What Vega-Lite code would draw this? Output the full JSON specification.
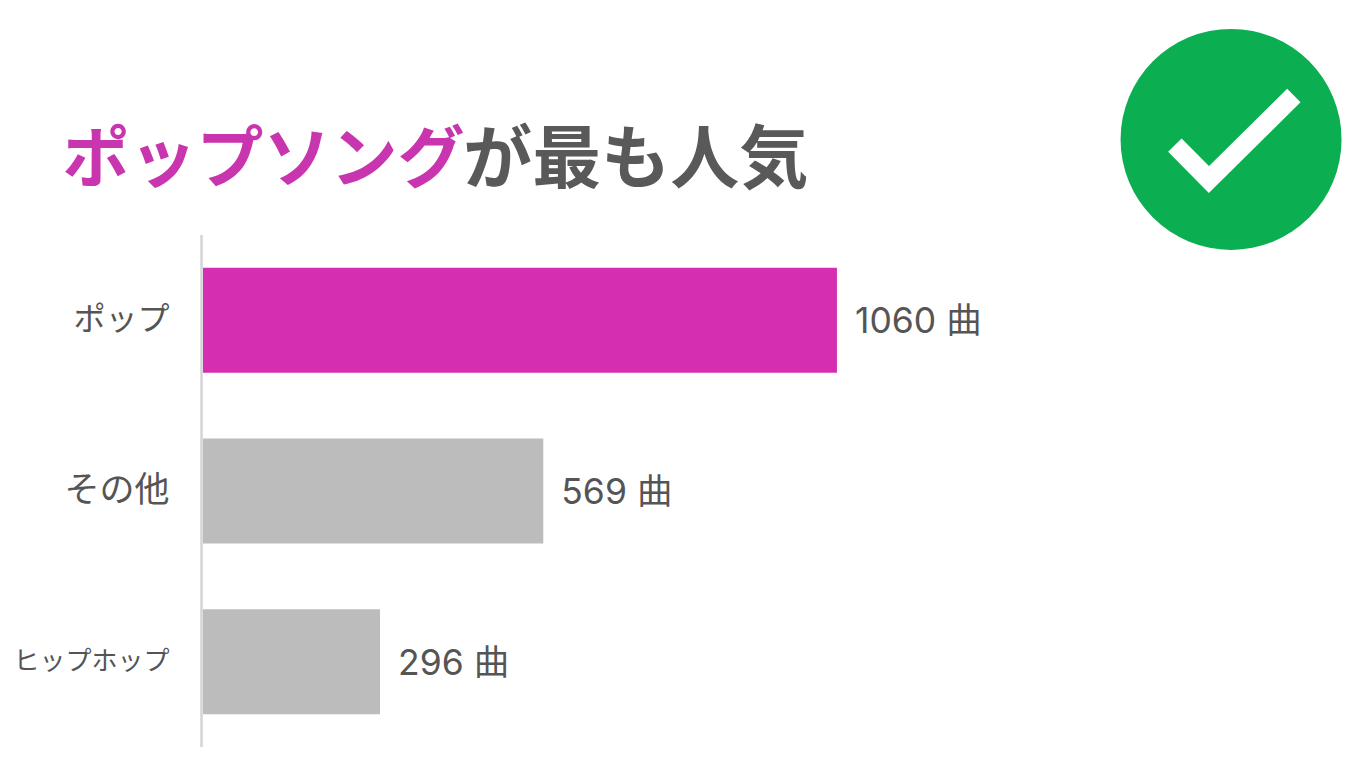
{
  "$schema": "https://vega.github.io/schema/vega-lite/v6.json",
  "background": "white",
  "width": 1168,
  "height": 512,
  "padding": {"left": 203, "top": 235, "right": 0, "bottom": 37},
  "autosize": "none",
  "view": {"stroke": null},
  "config": {"font": "Noto Sans CJK JP"},
  "datasets": {
    "genres": [
      {"genre": "ポップ", "songs": 1060, "label": "1060 曲", "highlight": "yes"},
      {"genre": "その他", "songs": 569, "label": "569 曲", "highlight": "no"},
      {"genre": "ヒップホップ", "songs": 296, "label": "296 曲", "highlight": "no"}
    ],
    "baseline": [
      {"pos": -2.5, "row": 0},
      {"pos": -2.5, "row": 3}
    ],
    "headline": [
      {"pos": -235, "row": -0.43, "text": "ポップソング", "part": "accent"},
      {"pos": 435, "row": -0.43, "text": "が最も人気", "part": "rest"}
    ],
    "badge": [{"pos": 1719, "row": -0.56}],
    "check": [
      {"pos": 1625, "row": -0.527, "step": 1},
      {"pos": 1682, "row": -0.325, "step": 2},
      {"pos": 1824, "row": -0.817, "step": 3}
    ]
  },
  "layer": [
    {
      "data": {"name": "genres"},
      "mark": {"type": "bar"},
      "encoding": {
        "y": {
          "field": "genre",
          "type": "nominal",
          "sort": null,
          "scale": {"paddingInner": 0.385, "paddingOuter": 0.1925},
          "axis": {
            "title": null,
            "domain": false,
            "ticks": false,
            "labelPadding": 34,
            "labelFontSize": {
              "condition": [
                {"test": "datum.value == 'ヒップホップ'", "value": 26},
                {"test": "datum.value == 'ポップ'", "value": 32}
              ],
              "value": 35
            },
            "labelColor": "#555555",
            "labelFont": "Noto Sans CJK JP",
            "labelLimit": 200
          }
        },
        "x": {
          "field": "songs",
          "type": "quantitative",
          "scale": {"domain": [0, 1953], "nice": false},
          "axis": null
        },
        "color": {
          "field": "highlight",
          "type": "nominal",
          "scale": {"domain": ["yes", "no"], "range": ["#d62eb0", "#bcbcbc"]},
          "legend": null
        }
      }
    },
    {
      "data": {"name": "genres"},
      "mark": {"type": "text", "align": "left", "baseline": "middle", "dx": 18, "dy": 2, "fontSize": 35.5, "font": "Inter, Noto Sans CJK JP", "color": "#555555"},
      "encoding": {
        "y": {
          "field": "genre",
          "type": "nominal",
          "sort": null,
          "scale": {"type": "band", "paddingInner": 0.385, "paddingOuter": 0.1925},
          "axis": null
        },
        "x": {"field": "songs", "type": "quantitative"},
        "text": {"field": "label"}
      }
    },
    {
      "data": {"name": "baseline"},
      "mark": {"type": "line", "color": "#d4d4d4", "strokeWidth": 2.5},
      "encoding": {
        "x": {"field": "pos", "type": "quantitative"},
        "y": {"field": "row", "type": "quantitative", "scale": {"domain": [3, 0]}, "axis": null}
      }
    },
    {
      "data": {"name": "headline"},
      "mark": {"type": "text", "align": "left", "baseline": "middle", "fontWeight": "bold", "font": "Noto Sans CJK JP"},
      "encoding": {
        "x": {"field": "pos", "type": "quantitative"},
        "y": {"field": "row", "type": "quantitative", "scale": {"domain": [3, 0]}, "axis": null},
        "text": {"field": "text"},
        "size": {
          "field": "part",
          "type": "nominal",
          "scale": {"type": "ordinal", "domain": ["accent", "rest"], "range": [67, 69]},
          "legend": null
        },
        "color": {
          "field": "part",
          "type": "nominal",
          "scale": {"domain": ["accent", "rest"], "range": ["#c935ae", "#595959"]},
          "legend": null
        }
      }
    },
    {
      "data": {"name": "badge"},
      "mark": {"type": "point", "shape": "circle", "filled": true, "size": 48841, "color": "#0bae50", "opacity": 1},
      "encoding": {
        "x": {"field": "pos", "type": "quantitative"},
        "y": {"field": "row", "type": "quantitative", "scale": {"domain": [3, 0]}, "axis": null}
      }
    },
    {
      "data": {"name": "check"},
      "mark": {"type": "line", "color": "white", "strokeWidth": 19, "strokeJoin": "miter", "strokeCap": "butt"},
      "encoding": {
        "x": {"field": "pos", "type": "quantitative"},
        "y": {"field": "row", "type": "quantitative", "scale": {"domain": [3, 0]}, "axis": null},
        "order": {"field": "step", "type": "quantitative"}
      }
    }
  ],
  "resolve": {"scale": {"y": "independent", "color": "independent"}}
}
